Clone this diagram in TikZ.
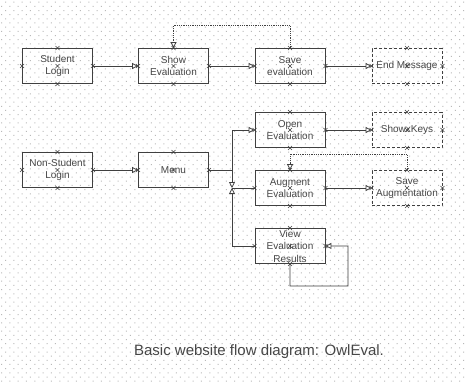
\documentclass[tikz,border=0pt]{standalone}
\usepackage{fontspec}
\setmainfont{Liberation Sans}
\usetikzlibrary{arrows.meta,shapes.misc}
\definecolor{lineGray}{RGB}{64,64,64}
\definecolor{textGray}{RGB}{70,70,70}
\definecolor{dotGray}{RGB}{185,185,185}

\tikzset{
  box/.style={draw=lineGray, line width=0.8pt, minimum width=70pt, minimum height=35pt,
              inner sep=1pt, align=center, text=textGray,
              font=\fontsize{10}{12.5}\selectfont},
  endbox/.style={box, densely dashed},
  link/.style={draw=lineGray, line width=0.8pt},
  back/.style={link, densely dotted},
  cpt/.style={cross out, draw=lineGray, line width=0.5pt, minimum size=3.5pt, inner sep=0pt},
}

\begin{document}
\begin{tikzpicture}[x=1pt,y=-1pt,>={Triangle[open,length=6pt,width=6pt]}]
    \useasboundingbox (0,0) rectangle (467,383);
    \fill[white] (0,0) rectangle (467,383);

    % dotted page grid
    \fill[dotGray] \foreach \i in {0,...,56} {\foreach \j in {0,...,46}
        {(5+\i*8.33,1.7+\j*8.33) rectangle ++(1,1) (1+\i*8.33,5.8+\j*8.33) rectangle ++(1,1)}};

    % student path
    \node[box] (stud) at (57.5,66) {Student\\Login};
    \node[box] (show) at (173.5,66) {Show\\Evaluation};
    \node[box] (save) at (290,66) {Save\\evaluation};
    \node[endbox] (endm) at (407,66) {End Message};

    % non-student path
    \node[box] (nonstud) at (57.5,170) {Non-Student\\Login};
    \node[box] (menu) at (173.5,170) {Menu};
    \node[box] (open) at (290,130) {Open\\Evaluation};
    \node[endbox] (keys) at (407,130) {ShowxKeys};
    \node[box] (aug) at (290,188) {Augment\\Evaluation};
    \node[endbox] (saveaug) at (407,188) {Save\\Augmentation};
    \node[box] (view) at (290,246) {View\\Evaluation\\Results};

    \draw[link,->] (stud) -- (show);
    \draw[link,->] (show) -- (save);
    \draw[link,->] (save) -- (endm);
    \draw[back,->] (save.north) -- ++(0,-23) -| (show.north);

    \coordinate (bus) at (232,170);
    \coordinate (fork) at (232,188);
    \draw[link,->] (nonstud) -- (menu);
    \draw[link] (menu.east) -- (bus);
    \draw[link,->] (bus) |- (open.west);
    \draw[link,->] (bus) -- (fork);
    \draw[link,->] (view.west) -| (fork);
    \draw[link] (fork) -- (aug.west);
    \draw[link,->] (open) -- (keys);
    \draw[link,->] (aug) -- (saveaug);
    \draw[back,->] (saveaug.north) -- ++(0,-16) -| (aug.north);
    \draw[link,->] (view.south) -- ++(0,22) -| ++(58,-40) -- (view.east);

    % connection points
    \foreach \n in {stud,show,save,endm,nonstud,menu,open,keys,aug,saveaug,view}
      \foreach \a in {north,south,east,west,center}
        \node[cpt] at (\n.\a) {};

    \node[text=textGray, font=\fontsize{15}{18}\selectfont] (caption) at (259,352)
        {Basic website flow diagram: OwlEval.};
\end{tikzpicture}
\end{document}
